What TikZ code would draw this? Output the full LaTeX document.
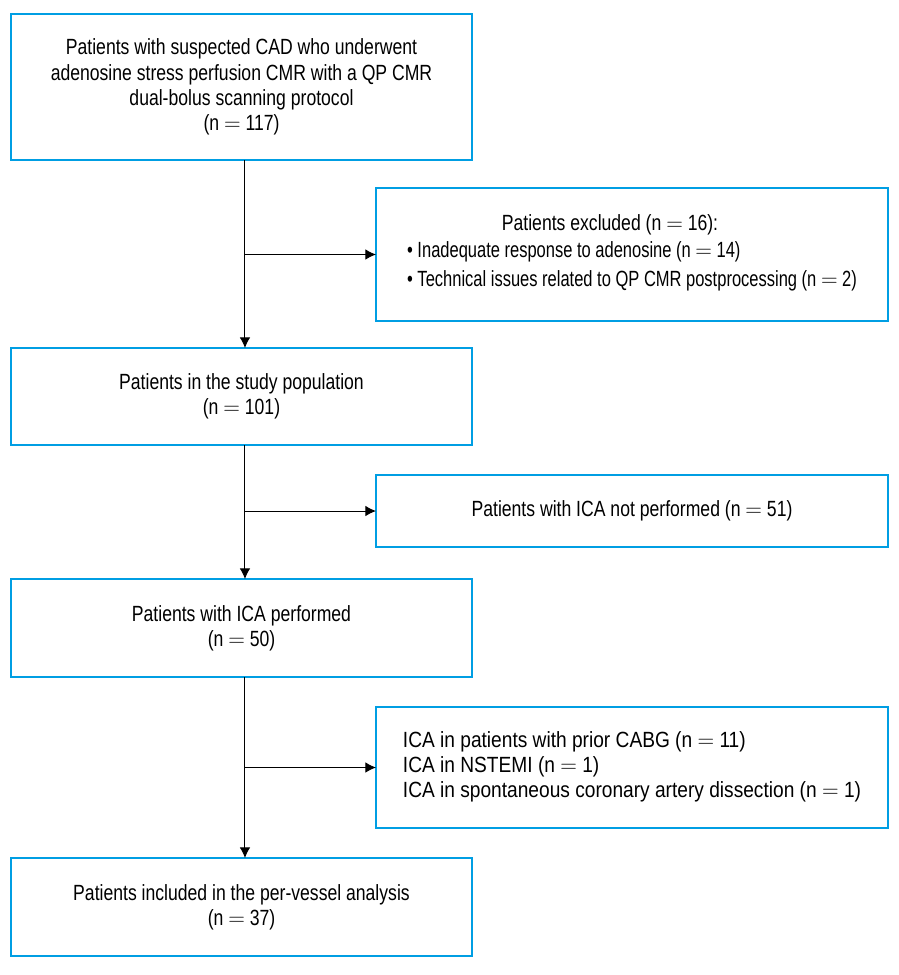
\documentclass[tikz,border=0pt]{standalone}
\usepackage{fontspec}
\setmainfont{Liberation Sans}[FakeStretch=0.8]
\newfontfamily\tightfont{Liberation Sans}[FakeStretch=0.75]
\newfontfamily\widefont{Liberation Sans}[FakeStretch=0.87]
\usepackage{xcolor}
\usepackage{tikz}
\usetikzlibrary{arrows.meta,positioning}
\definecolor{flowblue}{RGB}{0,158,227}
\newcommand{\ncount}[1]{(n $=$ #1)}
\tikzset{
  fbox/.style={draw=flowblue, line width=1.5pt, outer sep=0pt, align=center, font=\fontsize{16.5}{19}\selectfont, inner sep=4pt, minimum width=345.75pt, anchor=north west},
  xbox/.style={fbox, minimum width=384pt},
  farr/.style={-{Latex[length=8pt,width=8pt]}, line width=0.75pt}
}
\begin{document}
\begin{tikzpicture}
\useasboundingbox (0,0) rectangle (674.25pt,-731.25pt);
\node[fbox, minimum height=109.5pt] (a1) at (8.25pt,-10.5pt) {Patients with suspected CAD who underwent\\adenosine stress perfusion CMR with a QP CMR\\dual-bolus scanning protocol\\\ncount{117}};
\node[xbox, minimum height=99.75pt, below=21pt of a1.south west, xshift=273.75pt, anchor=north west] (x1) {Patients excluded \ncount{16}:\hspace*{33pt}\\[2pt]{\tightfont\begin{tabular}{@{}l@{}}\textbullet\ Inadequate response to adenosine \ncount{14}\\[3pt]\textbullet\ Technical issues related to QP CMR postprocessing \ncount{2}\end{tabular}}};
\node[fbox, minimum height=72.75pt, below=141pt of a1.south west, anchor=north west] (a2) {Patients in the study population\\\ncount{101}};
\node[xbox, minimum height=54pt, below=22.5pt of a2.south west, xshift=273.75pt, anchor=north west] (x2) {Patients with ICA not performed \ncount{51}};
\node[fbox, minimum height=73.5pt, below=100.5pt of a2.south west, anchor=north west] (a3) {Patients with ICA performed\\\ncount{50}};
\node[xbox, minimum height=90.75pt, below=22.5pt of a3.south west, xshift=273.75pt, anchor=north west] (x3) {\widefont\begin{tabular}{@{}l@{}}ICA in patients with prior CABG \ncount{11}\\ICA in NSTEMI \ncount{1}\\ICA in spontaneous coronary artery dissection \ncount{1}\end{tabular}};
\node[fbox, minimum height=73.5pt, below=135.75pt of a3.south west, anchor=north west] (a4) {Patients included in the per-vessel analysis\\\ncount{37}};
\draw[farr] ([xshift=2.6pt]a1.south)--([xshift=2.6pt]a2.north);
\draw[farr] ([xshift=2.6pt]a2.south)--([xshift=2.6pt]a3.north);
\draw[farr] ([xshift=2.6pt]a3.south)--([xshift=2.6pt]a4.north);
\draw[farr] ([xshift=2.6pt]a1.south |- x1.west)--(x1.west);
\draw[farr] ([xshift=2.6pt]a2.south |- x2.west)--(x2.west);
\draw[farr] ([xshift=2.6pt]a3.south |- x3.west)--(x3.west);
\end{tikzpicture}
\end{document}
